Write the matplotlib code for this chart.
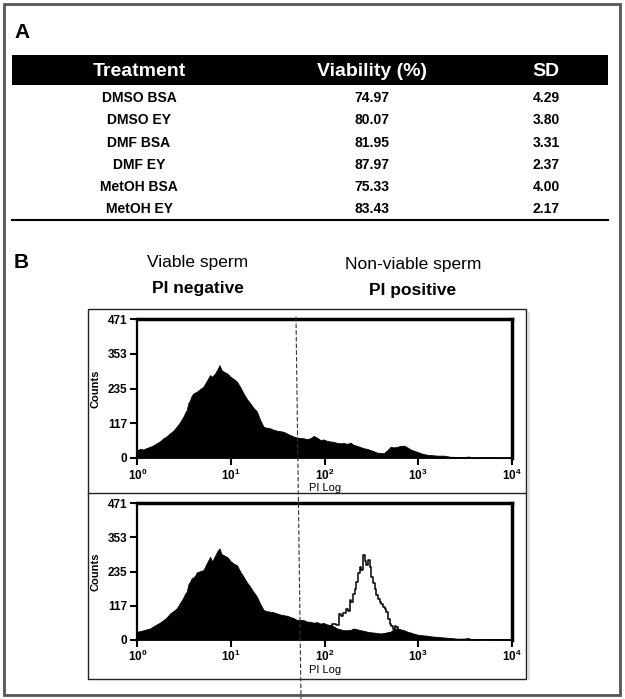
import matplotlib
matplotlib.use("Agg")
import matplotlib.pyplot as plt
import numpy as np
from matplotlib.patches import Rectangle
from matplotlib.lines import Line2D
from matplotlib.ticker import NullLocator

# ---- panel A table ----
header = ["Treatment", "Viability (%)", "SD"]
treatments = ["DMSO BSA", "DMSO EY", "DMF BSA", "DMF EY", "MetOH BSA", "MetOH EY"]
viability = ["74.97", "80.07", "81.95", "87.97", "75.33", "83.43"]
sd = ["4.29", "3.80", "3.31", "2.37", "4.00", "2.17"]

# ---- panel B histograms (log10 of PI intensity, counts) ----
top_log = [0.00, 0.03, 0.065, 0.10, 0.136, 0.17, 0.207, 0.24, 0.279, 0.31, 0.35, 0.385,
           0.42, 0.455, 0.493, 0.51, 0.528, 0.545, 0.564, 0.58, 0.60, 0.62, 0.636, 0.67,
           0.707, 0.74, 0.778, 0.80, 0.832, 0.855, 0.878, 0.90, 0.921, 0.94, 0.957, 0.975,
           0.992, 1.03, 1.064, 1.10, 1.135, 1.17, 1.207, 1.24, 1.278, 1.31, 1.349, 1.38,
           1.42, 1.455, 1.492, 1.53, 1.563, 1.60, 1.634, 1.67, 1.706, 1.74, 1.777, 1.81,
           1.848, 1.885, 1.92, 1.956, 1.99, 2.028, 2.065, 2.10, 2.135, 2.17, 2.205, 2.242,
           2.278, 2.31, 2.35, 2.385, 2.42, 2.455, 2.49, 2.525, 2.563, 2.60, 2.634, 2.67,
           2.706, 2.74, 2.777, 2.81, 2.85, 2.885, 2.92, 2.955, 2.99, 3.03, 3.063, 3.10,
           3.134, 3.17, 3.206, 3.24, 3.277, 3.31, 3.35, 3.385, 3.42, 3.48, 3.545, 3.56,
           3.70, 4.00]
top_counts = [26, 30, 28, 33, 37, 42, 49, 55, 66, 72, 83, 92,
              105, 120, 140, 152, 162, 185, 196, 210, 219, 222, 225, 233,
              242, 260, 281, 275, 287, 300, 315, 298, 293, 290, 287, 282,
              276, 268, 259, 240, 219, 200, 185, 170, 157, 130, 105, 102,
              100, 95, 92, 90, 88, 82, 77, 72, 68, 67, 66, 63,
              66, 74, 68, 60, 62, 57, 55, 54, 50, 49, 50, 47,
              51, 44, 40, 36, 32, 30, 26, 22, 17, 16, 15, 25,
              37, 35, 37, 40, 41, 35, 28, 24, 20, 15, 12, 10,
              9, 8, 7, 7, 7, 5, 3, 3, 2, 2, 4, 0,
              1, 0]

bot_log = top_log
bot_counts = [27, 29, 32, 35, 38, 45, 52, 58, 67, 75, 90, 98,
              107, 125, 145, 158, 165, 190, 200, 211, 215, 222, 232, 236,
              240, 262, 286, 270, 290, 305, 315, 295, 292, 288, 286, 280,
              272, 262, 257, 235, 217, 198, 182, 165, 148, 125, 102, 98,
              96, 94, 90, 86, 84, 82, 78, 74, 67, 68, 67, 62,
              61, 58, 60, 55, 57, 52, 50, 45, 38, 35, 32, 32,
              33, 38, 35, 32, 30, 27, 25, 24, 22, 21, 22, 25,
              27, 36, 38, 35, 32, 27, 24, 20, 17, 15, 14, 13,
              11, 10, 9, 8, 7, 6, 5, 4, 3, 3, 5, 0,
              1, 0]

pos_log = [2.00, 2.063, 2.10, 2.135, 2.17, 2.19, 2.206, 2.242, 2.26, 2.277, 2.295, 2.313,
           2.33, 2.349, 2.367, 2.385, 2.40, 2.42, 2.437, 2.456, 2.474, 2.492, 2.51, 2.528,
           2.545, 2.563, 2.58, 2.60, 2.617, 2.635, 2.65, 2.67, 2.688, 2.706, 2.724, 2.742,
           2.76, 2.777, 2.795, 2.813, 2.83, 2.85, 2.87, 2.90, 3.00, 3.10, 3.20]
pos_counts = [20, 35, 55, 50, 87, 80, 92, 104, 100, 136, 130, 159,
              175, 199, 230, 252, 240, 292, 270, 258, 275, 252, 215, 194,
              175, 153, 140, 130, 122, 113, 105, 96, 70, 55, 45, 38,
              47, 44, 33, 27, 15, 3, 10, 15, 8, 3, 0]

yticks = [0, 117, 235, 353, 471]
xticks = [1, 10, 100, 1000, 10000]
xticklabels = [r"$\mathbf{10^0}$", r"$\mathbf{10^1}$", r"$\mathbf{10^2}$",
               r"$\mathbf{10^3}$", r"$\mathbf{10^4}$"]

W, H = 625, 699
def fx(x):
    return x / W
def fy(y):
    return 1 - y / H

sans = ["Liberation Sans", "DejaVu Sans"]
plt.rcParams["mathtext.fontset"] = "custom"
plt.rcParams["mathtext.rm"] = "Liberation Sans"
plt.rcParams["mathtext.bf"] = "Liberation Sans:bold"

fig = plt.figure(figsize=(6.25, 6.99), dpi=100)

# outer frame
fig.patches.append(Rectangle((fx(4), fy(695)), fx(616), 691 / H, transform=fig.transFigure,
                             fill=False, ec="#555555", lw=2))

# ---- panel A ----
fig.text(fx(14), fy(32), "A", fontsize=15, fontweight="bold", family=sans, va="center")
fig.patches.append(Rectangle((fx(12), fy(85)), fx(596), 30 / H, transform=fig.transFigure,
                             fc="black", ec="none"))
col_x = [139, 372, 546]
for cx, h in zip(col_x, header):
    fig.text(fx(cx), fy(71), h, color="white", fontsize=14, fontweight="bold",
             family=sans, ha="center", va="center")
row_y = [98, 120, 143, 165, 187, 209]
for ry, t, v, s in zip(row_y, treatments, viability, sd):
    for cx, val in zip(col_x, [t, v, s]):
        fig.text(fx(cx), fy(ry), val, fontsize=10, fontweight="bold", family=sans,
                 ha="center", va="center")
fig.lines.append(Line2D([fx(12), fx(608)], [fy(220), fy(220)], transform=fig.transFigure,
                        color="black", lw=1.5))

# ---- panel B ----
fig.text(fx(14), fy(263), "B", fontsize=15, fontweight="bold", family=sans, va="center")
fig.text(fx(198), fy(263), "Viable sperm", fontsize=12.5, family=sans, ha="center", va="center")
fig.text(fx(198), fy(288), "PI negative", fontsize=12.5, fontweight="bold", family=sans,
         ha="center", va="center")
fig.text(fx(413), fy(265), "Non-viable sperm", fontsize=12.5, family=sans, ha="center", va="center")
fig.text(fx(413), fy(291), "PI positive", fontsize=12.5, fontweight="bold", family=sans,
         ha="center", va="center")

# plot box and divider
fig.patches.append(Rectangle((fx(528), fy(680)), 2 / W, 368 / H, transform=fig.transFigure,
                             fc="#dddddd", ec="none"))
fig.patches.append(Rectangle((fx(88), fy(679)), fx(438), 370 / H, transform=fig.transFigure,
                             fill=False, ec="#222222", lw=1.0))
fig.lines.append(Line2D([fx(88), fx(526)], [fy(493), fy(493)], transform=fig.transFigure,
                        color="#222222", lw=1.0))


def hist_axes(top, bottom):
    ax = fig.add_axes([fx(137.3), fy(bottom), (511.7 - 137.3) / W, (bottom - top) / H])
    ax.set_xscale("log")
    ax.set_xlim(1, 1e4)
    ax.set_ylim(0, 471)
    ax.set_xticks(xticks)
    ax.set_xticklabels(xticklabels)
    ax.xaxis.set_minor_locator(NullLocator())
    ax.set_yticks(yticks)
    ax.set_yticklabels([str(t) for t in yticks])
    for lab in ax.get_yticklabels():
        lab.set_fontweight("bold")
        lab.set_family(sans)
    ax.tick_params(axis="both", labelsize=8.5, length=5, width=1.5, direction="out", pad=2)
    ax.spines["top"].set_linewidth(2.5)
    ax.spines["right"].set_linewidth(2.5)
    ax.spines["left"].set_linewidth(1.6)
    ax.spines["bottom"].set_linewidth(1.2)
    ax.set_ylabel("Counts", fontsize=8, fontweight="bold", family=sans)
    ax.yaxis.set_label_coords(-0.097, 0.5)
    return ax


ax1 = hist_axes(319.3, 457.7)
ax1.fill_between(10 ** np.array(top_log), top_counts, color="black", lw=0.6, ec="black")
fig.text(fx(325), fy(488), "PI Log", fontsize=8, family=sans, ha="center", va="center")

ax2 = hist_axes(503.3, 639.5)
ax2.fill_between(10 ** np.array(bot_log), bot_counts, color="black", lw=0.6, ec="black")
ax2.plot(10 ** np.array(pos_log), pos_counts, color="black", lw=1.1, drawstyle="steps-mid")
fig.text(fx(325), fy(670), "PI Log", fontsize=8, family=sans, ha="center", va="center")

# gate line
fig.lines.append(Line2D([fx(296), fx(301)], [fy(317), fy(699)], transform=fig.transFigure,
                        color="#333333", lw=0.8, dashes=(4, 2)))

fig.savefig("out.png", dpi=100)
